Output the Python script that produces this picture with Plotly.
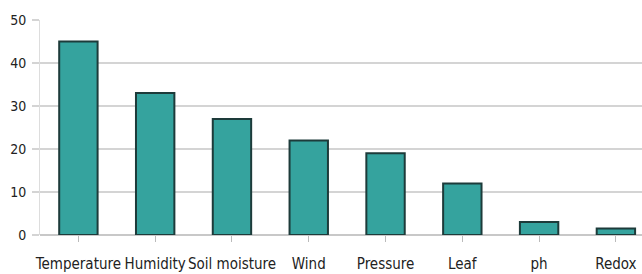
import plotly.graph_objects as go

categories = ["Temperature", "Humidity", "Soil moisture", "Wind", "Pressure", "Leaf", "ph", "Redox"]
values = [45, 33, 27, 22, 19, 12, 3, 1.5]
y_ticks = [0, 10, 20, 30, 40, 50]

fig = go.Figure(go.Bar(
    x=categories, y=values,
    marker=dict(color="#35a39e", line=dict(color="#1d3b3a", width=2)),
))

fig.update_layout(
    width=642, height=274,
    margin=dict(l=40, r=0, t=20, b=39),
    paper_bgcolor="white", plot_bgcolor="white",
    bargap=0.5, showlegend=False,
    font=dict(family="DejaVu Sans Condensed, DejaVu Sans", size=14, color="#333333"),
)
fig.update_xaxes(
    range=[-0.5, 7.34], showgrid=False, automargin=False,
    ticks="outside", ticklen=6, tickcolor="#bbbbbb", tickwidth=1,
    ticklabelstandoff=9,
    showline=False, tickfont=dict(size=15, color="#222222"),
)
fig.update_yaxes(
    range=[0, 50], tickvals=y_ticks, automargin=False,
    showgrid=True, gridcolor="#d4d4d4", gridwidth=2,
    ticks="outside", ticklen=7, tickcolor="#d4d4d4", tickwidth=2,
    ticklabelstandoff=3,
    showline=True, linecolor="#dddddd", linewidth=1,
    zeroline=True, zerolinecolor="#c8c8c8", zerolinewidth=2,
    tickfont=dict(size=14, color="#222222"),
)

fig.write_html("out.html", config={"displayModeBar": False},
               post_script="document.body.style.margin='0';")
